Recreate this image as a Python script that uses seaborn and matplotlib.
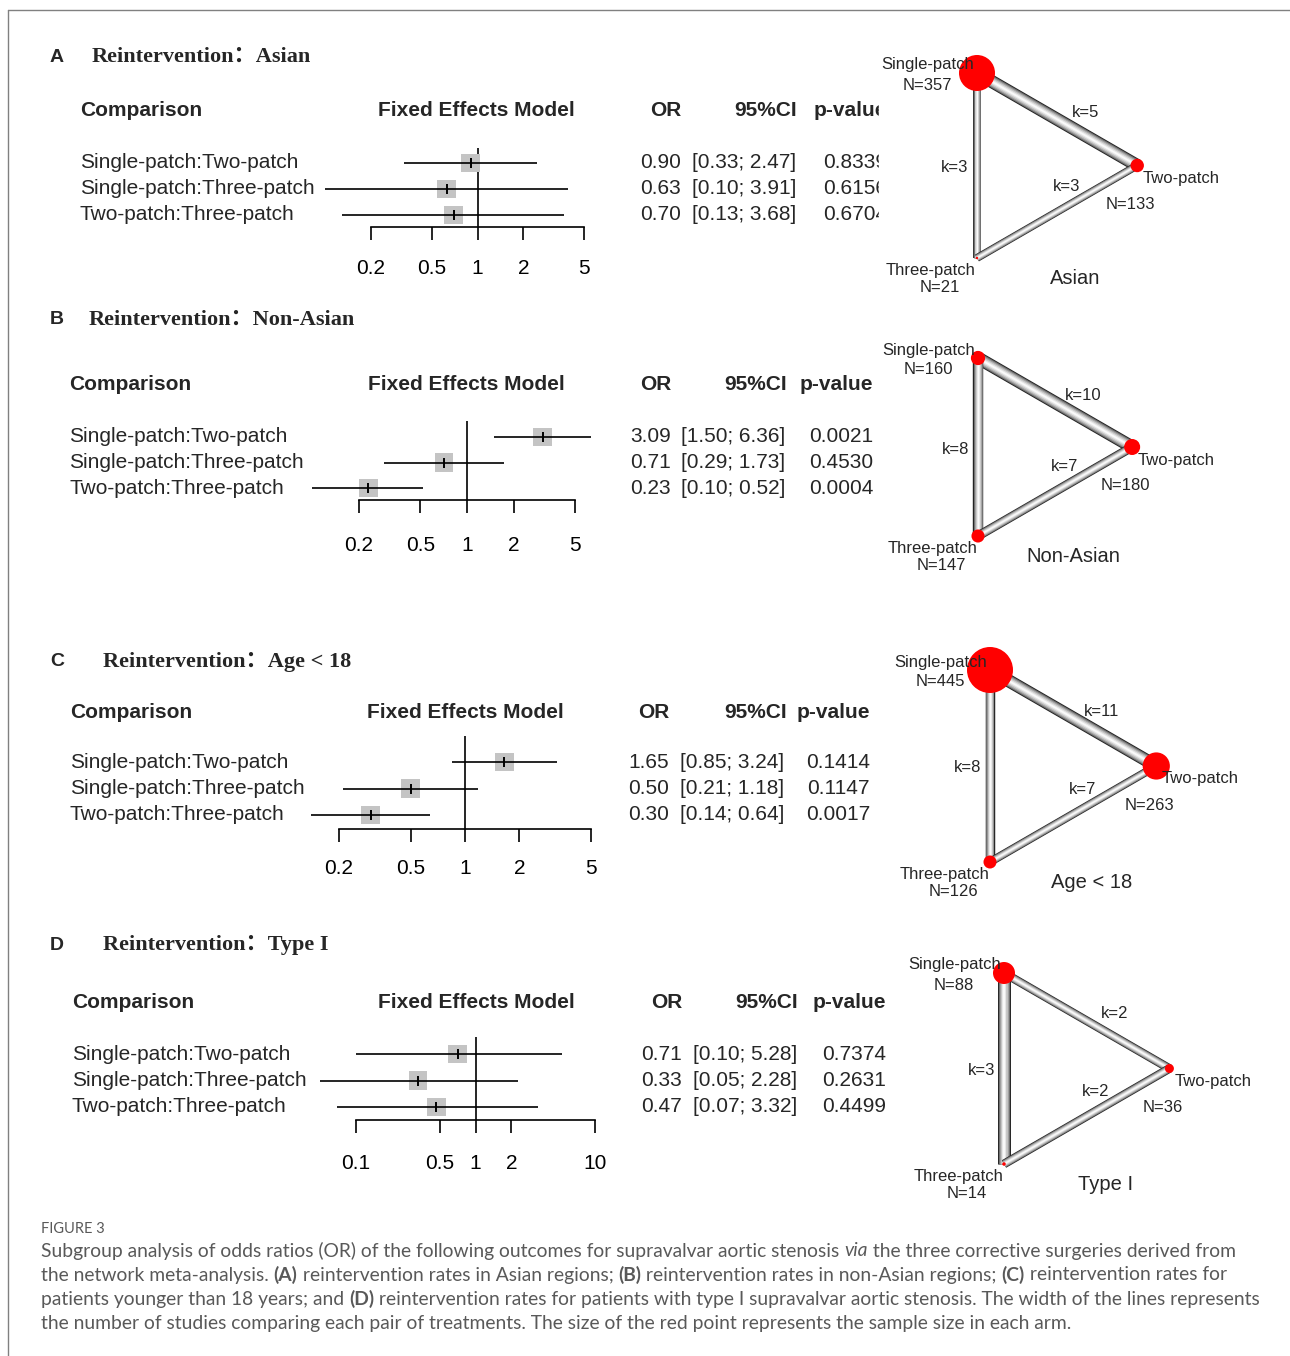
import matplotlib
matplotlib.use("Agg")
import matplotlib.pyplot as plt
import numpy as np
import pandas as pd
import seaborn as sns
from matplotlib.patches import Rectangle
from matplotlib.ticker import FixedFormatter, FixedLocator, NullLocator

W, H = 1290, 1356

# ---- data ----
comparisons = ["Single-patch:Two-patch", "Single-patch:Three-patch", "Two-patch:Three-patch"]
treatments = ["Single-patch", "Two-patch", "Three-patch"]
panel_letters = ["A", "B", "C", "D"]
subgroups = ["Asian", "Non-Asian", "Age < 18", "Type I"]

or_asian = [0.90, 0.63, 0.70]
lo_asian = [0.33, 0.10, 0.13]
hi_asian = [2.47, 3.91, 3.68]
p_asian = ["0.8339", "0.6156", "0.6704"]

or_nonasian = [3.09, 0.71, 0.23]
lo_nonasian = [1.50, 0.29, 0.10]
hi_nonasian = [6.36, 1.73, 0.52]
p_nonasian = ["0.0021", "0.4530", "0.0004"]

or_age = [1.65, 0.50, 0.30]
lo_age = [0.85, 0.21, 0.14]
hi_age = [3.24, 1.18, 0.64]
p_age = ["0.1414", "0.1147", "0.0017"]

or_type1 = [0.71, 0.33, 0.47]
lo_type1 = [0.10, 0.05, 0.07]
hi_type1 = [5.28, 2.28, 3.32]
p_type1 = ["0.7374", "0.2631", "0.4499"]

# sample size per arm (Single, Two, Three) and studies per edge (S-T, S-Th, T-Th)
n_asian = [357, 133, 21]
k_asian = [5, 3, 3]
n_nonasian = [160, 180, 147]
k_nonasian = [10, 8, 7]
n_age = [445, 263, 126]
k_age = [11, 8, 7]
n_type1 = [88, 36, 14]
k_type1 = [2, 3, 2]

axis_ticks = [[0.2, 0.5, 1, 2, 5]] * 3 + [[0.1, 0.5, 1, 2, 10]]
tick_labels = [["0.2", "0.5", "1", "2", "5"]] * 3 + [["0.1", "0.5", "1", "2", "10"]]

panels = [
    (or_asian, lo_asian, hi_asian, p_asian, n_asian, k_asian),
    (or_nonasian, lo_nonasian, hi_nonasian, p_nonasian, n_nonasian, k_nonasian),
    (or_age, lo_age, hi_age, p_age, n_age, k_age),
    (or_type1, lo_type1, hi_type1, p_type1, n_type1, k_type1),
]

# ---- layout (pixels) ----
title_y = [57, 320, 662, 945]
title_x = [92, 89, 103, 103]
header_y = [111, 385, 712, 1003]
comp_x = [80, 69, 70, 72]
fem_cx = [476, 466, 465, 476]
or_right = [681, 671, 669, 682]
ci_left = [692, 681, 680, 693]
ci_right = [797, 787, 787, 798]
p_right = [887, 873, 870, 886]
row0 = [163, 437, 762, 1054]
row_dy = [26, 25.5, 26.5, 26.5]
ref_top = [148, 421, 736, 1037]
axis_y = [227, 500, 829, 1120]
axis_left = [371, 359, 339, 356]
axis_right = [584, 575, 591, 595]
ticklab_y = [267, 544, 867, 1162]
net_x = [977, 978, 990, 1004]
net_top = [73, 358, 670, 973]
net_side = [185, 178, 192, 191]
node_rmax = [18, 8, 23, 11]
name_dx = [98, 95, 102, 102]

sns.set_style("white")
plt.rcParams["font.family"] = ["Liberation Sans", "DejaVu Sans"]

fig = plt.figure(figsize=(W / 100, H / 100), dpi=100)
canvas = fig.add_axes([0, 0, 1, 1], zorder=0)
canvas.set_xlim(0, W)
canvas.set_ylim(H, 0)
canvas.axis("off")

# frame lines
canvas.plot([8, W], [10, 10], color="#808080", lw=1)
canvas.plot([8, 8], [10, H], color="#808080", lw=1)

serif = ["Liberation Serif", "Noto Sans CJK SC", "DejaVu Serif"]


def draw_forest(i, ors, los, his, pvals):
    xl, xr = axis_left[i], axis_right[i]
    top, bot = ref_top[i], axis_y[i]
    ax = fig.add_axes([xl / W, 1 - bot / H, (xr - xl) / W, (bot - top) / H], zorder=1)
    ax.set_facecolor("none")
    ax.set_xscale("log")
    df = pd.DataFrame({"OR": ors, "lo": los, "hi": his, "row": np.arange(3)})
    ax.axvline(1, color="black", lw=1.2, zorder=1)
    sns.scatterplot(data=df, x="OR", y="row", marker="s", s=185, color="#c4c4c4",
                    edgecolor="none", linewidth=0, ax=ax, zorder=2, clip_on=False)
    ax.hlines(df["row"], df["lo"], df["hi"], color="black", lw=1.2, clip_on=False, zorder=3)
    ax.scatter(df["OR"], df["row"], marker="|", s=60, color="black", linewidths=1.4,
               zorder=4, clip_on=False)
    ticks = axis_ticks[i]
    ax.set_xlim(ticks[0], ticks[-1])
    ax.set_ylim((bot - row0[i]) / row_dy[i], (top - row0[i]) / row_dy[i])
    ax.xaxis.set_major_locator(FixedLocator(ticks))
    ax.xaxis.set_major_formatter(FixedFormatter(tick_labels[i]))
    ax.xaxis.set_minor_locator(NullLocator())
    ax.set_yticks([])
    ax.set_xlabel("")
    ax.set_ylabel("")
    for s in ["top", "right", "left"]:
        ax.spines[s].set_visible(False)
    ax.spines["bottom"].set_linewidth(1.2)
    ax.spines["bottom"].set_color("black")
    pad = (ticklab_y[i] - 8 - bot - 13) * 0.72
    ax.tick_params(axis="x", direction="out", length=13 * 0.72, width=1.2, pad=pad,
                   labelsize=15, colors="black", bottom=True)

    # text columns
    canvas.text(50, title_y[i], panel_letters[i], fontsize=14, weight="bold", va="center")
    canvas.text(title_x[i], title_y[i], "Reintervention：" + subgroups[i], family=serif,
                fontsize=16, weight="bold", va="center")
    hy = header_y[i]
    canvas.text(comp_x[i], hy, "Comparison", fontsize=15, weight="bold", va="center")
    canvas.text(fem_cx[i], hy, "Fixed Effects Model", fontsize=15, weight="bold",
                va="center", ha="center")
    canvas.text(or_right[i], hy, "OR", fontsize=15, weight="bold", va="center", ha="right")
    canvas.text(ci_right[i], hy, "95%CI", fontsize=15, weight="bold", va="center", ha="right")
    canvas.text(p_right[i], hy, "p-value", fontsize=15, weight="bold", va="center", ha="right")
    for j in range(3):
        ry = row0[i] + row_dy[i] * j
        canvas.text(comp_x[i], ry, comparisons[j], fontsize=15, va="center")
        canvas.text(or_right[i], ry, f"{ors[j]:.2f}", fontsize=15, va="center", ha="right")
        canvas.text(ci_left[i], ry, f"[{los[j]:.2f}; {his[j]:.2f}]", fontsize=15, va="center")
        canvas.text(p_right[i], ry, pvals[j], fontsize=15, va="center", ha="right")


def draw_network(i, ns, ks):
    x0, y0, side = net_x[i], net_top[i], net_side[i]
    pos = [(x0, y0), (x0 + side * np.sqrt(3) / 2, y0 + side / 2), (x0, y0 + side)]
    edges = [(0, 1), (0, 2), (1, 2)]
    kmax = max(ks)
    shades = [(1.0, "#222222"), (0.86, "#6e6e6e"), (0.7, "#9e9e9e"),
              (0.52, "#c6c6c6"), (0.32, "#e6e6e6"), (0.14, "#fafafa")]
    for (a, b), k in zip(edges, ks):
        w = 13 * k / kmax * 0.72
        xs = [pos[a][0], pos[b][0]]
        ys = [pos[a][1], pos[b][1]]
        for frac, col in shades:
            canvas.plot(xs, ys, color=col, lw=w * frac, solid_capstyle="butt", zorder=4)
    nmax = max(ns)
    radii = [max(node_rmax[i] * n / nmax, 1.2) for n in ns]
    canvas.scatter([p[0] for p in pos], [p[1] for p in pos],
                   s=[(2 * r * 0.72) ** 2 for r in radii], color="red",
                   edgecolors="none", zorder=4.5)

    S, T, Th = pos
    kw = dict(fontsize=12, va="center", zorder=5)
    canvas.text(S[0] - 3, S[1] - 8, treatments[0], ha="right", **kw)
    canvas.text(S[0] - 50, S[1] + 12, f"N={ns[0]}", ha="center", **kw)
    canvas.text(T[0] + 5, T[1] + 13, treatments[1], ha="left", **kw)
    canvas.text(T[0] - 7, T[1] + 39, f"N={ns[1]}", ha="center", **kw)
    canvas.text(Th[0] - 1, Th[1] + 13, treatments[2], ha="right", **kw)
    canvas.text(Th[0] - 37, Th[1] + 30, f"N={ns[2]}", ha="center", **kw)
    offs = [(28, -7), (-22, 2), (9, -25)]
    for (a, b), k, (dx, dy) in zip(edges, ks, offs):
        mx = (pos[a][0] + pos[b][0]) / 2
        my = (pos[a][1] + pos[b][1]) / 2
        canvas.text(mx + dx, my + dy, f"k={k}", ha="center", **kw)
    canvas.text(Th[0] + name_dx[i], Th[1] + 20, subgroups[i], fontsize=14.5,
                ha="center", va="center", zorder=5)


for i, (ors, los, his, pv, ns, ks) in enumerate(panels):
    draw_forest(i, ors, los, his, pv)
    draw_network(i, ns, ks)

# the network picture of panel A covers the right edge of its table
canvas.add_patch(Rectangle((879, 95), 75, 140, color="white", zorder=3.5))

# ---- caption ----
renderer = fig.canvas.get_renderer()
cap_kw = dict(family=["Lato", "DejaVu Sans"], color="#595959")
styles = {"n": {}, "i": {"style": "italic"}, "b": {"weight": "bold"}}
caption_lines = [
    [("Subgroup analysis of odds ratios (OR) of the following outcomes for supravalvar aortic stenosis ", "n"),
     ("via", "i"), (" the three corrective surgeries derived from", "n")],
    [("the network meta-analysis. ", "n"), ("(A)", "b"), (" reintervention rates in Asian regions; ", "n"),
     ("(B)", "b"), (" reintervention rates in non-Asian regions; ", "n"), ("(C)", "b"),
     (" reintervention rates for", "n")],
    [("patients younger than 18 years; and ", "n"), ("(D)", "b"),
     (" reintervention rates for patients with type I supravalvar aortic stenosis. The width of the lines represents", "n")],
    [("the number of studies comparing each pair of treatments. The size of the red point represents the sample size in each arm.", "n")],
]


def text_w(s, size, st):
    t1 = canvas.text(0, 0, "|" + s + "|", fontsize=size, **cap_kw, **styles[st])
    t2 = canvas.text(0, 0, "||", fontsize=size, **cap_kw, **styles[st])
    w = t1.get_window_extent(renderer).width - t2.get_window_extent(renderer).width
    t1.remove()
    t2.remove()
    return w


base = 12
w1 = sum(text_w(s, base, st) for s, st in caption_lines[0])
cap_size = base * 1197 / w1

canvas.text(41, 1229, "FIGURE 3", fontsize=10.5, va="center", **cap_kw)
for li, line in enumerate(caption_lines):
    x = 41
    y = 1251 + 24 * li
    for s, st in line:
        canvas.text(x, y, s, fontsize=cap_size, va="center", **cap_kw, **styles[st])
        x += text_w(s, cap_size, st)

fig.savefig("out.png", dpi=100)
